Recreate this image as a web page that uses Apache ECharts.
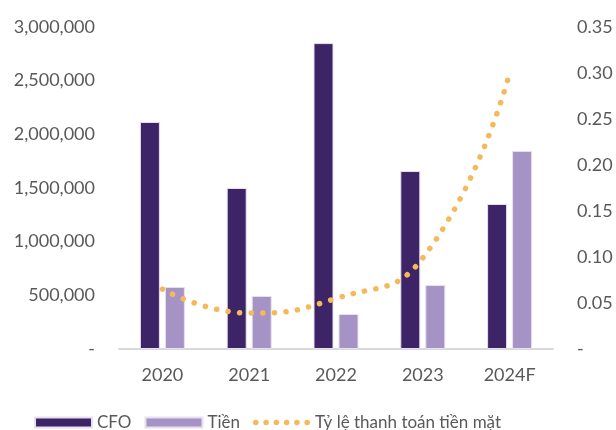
<!DOCTYPE html>
<html>
<head>
<meta charset="utf-8">
<script src="https://cdn.jsdelivr.net/npm/echarts@6/dist/echarts.min.js"></script>
<style>
  html, body { margin: 0; padding: 0; background: #fff; }
  #chart { width: 616px; height: 430px; }
</style>
</head>
<body>
<div id="chart"></div>
<script>
var years = ["2020", "2021", "2022", "2023", "2024F"];
var cfo = [2115000, 1500000, 2850000, 1658000, 1351000];
var tien = [578000, 494000, 326000, 596000, 1845000];
var tyLe = [0.065, 0.039, 0.055, 0.099, 0.300];

var font = "Lato";
var gray = "#595959";
var dotColor = "#f5b95a";

// legend icon: a row of six round dots (M0,0 / M0,10 fix the box to 57x10)
var dotIcon = "path://M0,0 M0,10 M57,0";
for (var i = 0; i < 6; i++) {
  var cx = 2.8 + i * 10.3;
  dotIcon += " M" + (cx - 2.8) + ",5 a2.8,2.8 0 1,0 5.6,0 a2.8,2.8 0 1,0 -5.6,0";
}

var myChart = echarts.init(document.getElementById("chart"));
var option = {
  animation: false,
  textStyle: { fontFamily: font },
  grid: { left: 119, right: 63, top: 27, bottom: 81 },
  legend: {
    top: 409,
    left: 29,
    itemWidth: 57,
    itemHeight: 10,
    itemGap: 13,
    textStyle: { fontSize: 17, color: gray, fontFamily: font },
    data: [
      { name: "CFO", icon: "rect" },
      { name: "Tiền", icon: "rect" },
      { name: "Tỷ lệ thanh toán tiền mặt", icon: dotIcon, itemStyle: { color: dotColor } }
    ]
  },
  xAxis: {
    type: "category",
    data: years,
    axisLine: { lineStyle: { color: "#d9d9d9", width: 2 } },
    axisTick: { show: false },
    axisLabel: { fontSize: 18, color: gray, margin: 17 }
  },
  yAxis: [
    {
      type: "value",
      min: 0,
      max: 3000000,
      interval: 500000,
      splitLine: { show: false },
      axisLabel: {
        fontSize: 18,
        color: gray,
        margin: 24,
        formatter: function (v) { return v === 0 ? "-" : v.toLocaleString("en-US"); }
      }
    },
    {
      type: "value",
      min: 0,
      max: 0.35,
      interval: 0.05,
      splitLine: { show: false },
      axisLabel: {
        fontSize: 18,
        color: gray,
        margin: 24,
        formatter: function (v) { return v === 0 ? "-" : v.toFixed(2); }
      }
    }
  ],
  series: [
    {
      name: "CFO",
      type: "bar",
      data: cfo,
      barWidth: 20,
      barGap: "25%",
      itemStyle: { color: "#3d2466", borderColor: "#e6e0ef", borderWidth: 1 }
    },
    {
      name: "Tiền",
      type: "bar",
      data: tien,
      barWidth: 20,
      itemStyle: { color: "#a593c6", borderColor: "#e6e0ef", borderWidth: 1 }
    },
    {
      name: "Tỷ lệ thanh toán tiền mặt",
      type: "line",
      yAxisIndex: 1,
      data: tyLe,
      smooth: true,
      symbol: "none",
      itemStyle: { color: dotColor },
      lineStyle: { color: dotColor, width: 5.5, type: [0.1, 11.5], cap: "round" }
    }
  ]
};
option && myChart.setOption(option, true);
</script>
</body>
</html>
